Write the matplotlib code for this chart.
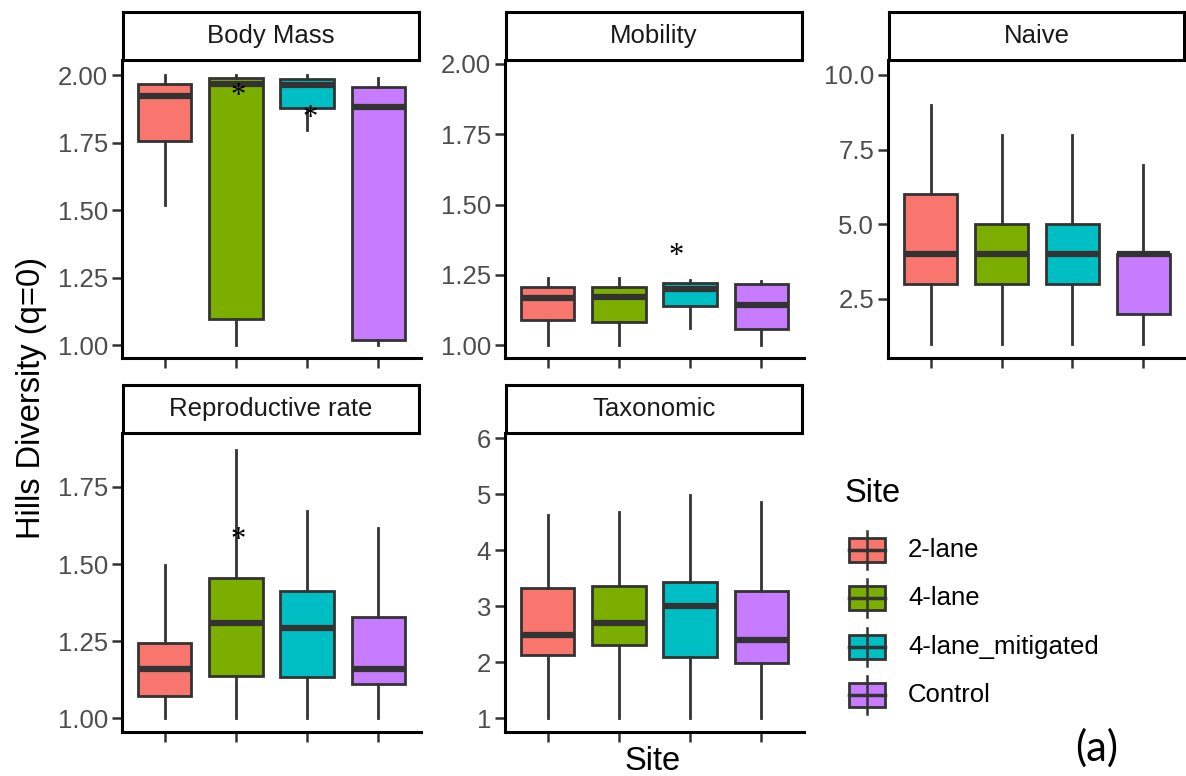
import numpy as np
import matplotlib
matplotlib.use("Agg")
import matplotlib.pyplot as plt
from matplotlib.patches import Rectangle

plt.rcParams['font.family'] = ['Liberation Sans', 'DejaVu Sans']

sites = ["2-lane", "4-lane", "4-lane_mitigated", "Control"]
colors = ["#F8766D", "#7CAE00", "#00BFC4", "#C77CFF"]
panels = ["Body Mass", "Mobility", "Naive", "Reproductive rate", "Taxonomic"]

# per panel, per site: whisker low, q1, median, q3, whisker high
body_mass = [[1.52, 1.756, 1.923, 1.967, 2.0],
             [1.0, 1.096, 1.966, 1.99, 2.0],
             [1.796, 1.88, 1.963, 1.985, 2.0],
             [1.0, 1.019, 1.882, 1.956, 1.99]]
mobility = [[1.0, 1.089, 1.166, 1.208, 1.237],
            [1.0, 1.083, 1.17, 1.208, 1.237],
            [1.06, 1.14, 1.198, 1.222, 1.232],
            [1.0, 1.056, 1.143, 1.217, 1.229]]
naive = [[1, 3, 4, 6, 9],
         [1, 3, 4, 5, 8],
         [1, 3, 4, 5, 8],
         [1, 2, 4, 4, 7]]
repro = [[1.0, 1.073, 1.161, 1.243, 1.496],
         [1.0, 1.138, 1.31, 1.453, 1.871],
         [1.0, 1.133, 1.291, 1.412, 1.672],
         [1.0, 1.112, 1.159, 1.329, 1.617]]
taxonomic = [[1, 2.128, 2.485, 3.316, 4.62],
             [1, 2.306, 2.704, 3.357, 4.68],
             [1, 2.087, 3.0, 3.42, 4.99],
             [1, 1.99, 2.395, 3.274, 4.85]]
all_stats = [body_mass, mobility, naive, repro, taxonomic]

ylims = [(0.952, 2.056), (0.954, 2.014), (0.525, 10.5), (0.955, 1.925), (0.75, 6.09)]
yticks = [[1.0, 1.25, 1.5, 1.75, 2.0], [1.0, 1.25, 1.5, 1.75, 2.0],
          [2.5, 5.0, 7.5, 10.0], [1.0, 1.25, 1.5, 1.75], [1, 2, 3, 4, 5, 6]]
yfmt = ["{:.2f}", "{:.2f}", "{:.1f}", "{:.2f}", "{:.0f}"]

# significance asterisks: (panel index, x position, y value)
stars = [(0, 2.03, 1.922), (0, 3.04, 1.84), (1, 2.8, 1.315), (3, 2.03, 1.575)]

W, H = 1186, 776
fig = plt.figure(figsize=(W / 100, H / 100), dpi=100)

def px_axes(x0, y0, x1, y1):
    return fig.add_axes([x0 / W, 1 - y1 / H, (x1 - x0) / W, (y1 - y0) / H])

cols = [(122, 421), (505, 804), (888, 1186)]
rows = [(12, 60, 358), (385, 433, 732)]
ink = "#333333"

for i, name in enumerate(panels):
    r, c = divmod(i, 3)
    x0, x1 = cols[c]
    ys, yt, yb = rows[r]
    ax = px_axes(x0, yt, x1, yb)
    st = []
    for s in all_stats[i]:
        st.append(dict(whislo=s[0], q1=s[1], med=s[2], q3=s[3], whishi=s[4], fliers=[]))
    bp = ax.bxp(st, positions=[1, 2, 3, 4], widths=0.75, patch_artist=True,
                showcaps=False, showfliers=False,
                boxprops=dict(edgecolor=ink, linewidth=2),
                whiskerprops=dict(color=ink, linewidth=2),
                medianprops=dict(color=ink, linewidth=4.5, solid_capstyle='butt'))
    for p, col in zip(bp['boxes'], colors):
        p.set_facecolor(col)
    for (pi, sx, sy) in stars:
        if pi == i:
            ax.text(sx, sy, "*", ha='center', va='center', fontsize=22,
                    family='Liberation Serif', color='black')
    ax.set_xlim(0.4, 4.6)
    ax.set_ylim(*ylims[i])
    ax.set_xticks([1, 2, 3, 4])
    ax.set_xticklabels([])
    ax.set_yticks(yticks[i])
    ax.set_yticklabels([yfmt[i].format(v) for v in yticks[i]])
    ax.tick_params(colors=ink, labelcolor="#4D4D4D", labelsize=18.5, width=1.8,
                   length=7, pad=3)
    for sp in ["top", "right"]:
        ax.spines[sp].set_visible(False)
    for sp in ["left", "bottom"]:
        ax.spines[sp].set_linewidth(2.2)
        ax.spines[sp].set_color("black")
    ax.patch.set_alpha(0)
    sa = px_axes(x0 + 1, ys, x1 - 2, yt)
    sa.set_xticks([])
    sa.set_yticks([])
    for sp in sa.spines.values():
        sp.set_linewidth(2.2)
        sp.set_color("black")
    sa.text(0.5, 0.5, name, ha='center', va='center', fontsize=18.5,
            color="#1A1A1A", transform=sa.transAxes)

fig.text(32 / W, 1 - 398 / H, "Hills Diversity (q=0)", rotation=90,
         ha='center', va='center', fontsize=23.5)
fig.text(653 / W, 1 - 761 / H, "Site", ha='center', va='center', fontsize=23.5)

# legend
lg = fig.add_axes([0, 0, 1, 1])
lg.set_xlim(0, W)
lg.set_ylim(H, 0)
lg.axis('off')
lg.text(845, 493, "Site", ha='left', va='center', fontsize=23.5)
for k, (lab, col) in enumerate(zip(sites, colors)):
    cy = 550 + k * 48.3
    lg.plot([867, 867], [cy - 19, cy + 19], color=ink, lw=1.8)
    lg.add_patch(Rectangle((849, cy - 12), 36, 24, facecolor=col, edgecolor=ink, lw=2))
    lg.plot([849, 885], [cy, cy], color=ink, lw=2.5)
    lg.text(908, cy, lab, ha='left', va='center', fontsize=18.5)

fig.text(1097 / W, 1 - 748 / H, "(a)", ha='center', va='center', fontsize=30,
         family=['Lato', 'DejaVu Sans'])

fig.savefig("out.png", dpi=100)
